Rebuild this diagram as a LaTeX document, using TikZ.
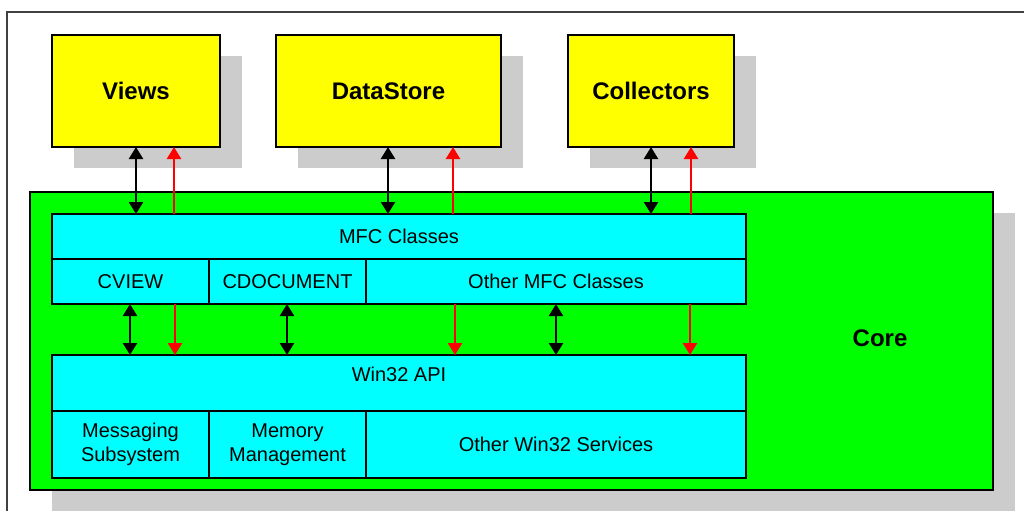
\documentclass[tikz,border=0pt]{standalone}
\usepackage{fontspec}
\setmainfont{Liberation Sans}
\usetikzlibrary{arrows.meta,shadows}
\definecolor{boxyellow}{HTML}{FFFF00}
\definecolor{coregreen}{HTML}{00FF00}
\definecolor{apicyan}{HTML}{00FFFF}
\definecolor{shadowgray}{HTML}{CCCCCC}
\definecolor{flowred}{HTML}{FF0000}
\begin{document}
\begin{tikzpicture}[x=1pt,y=-1pt,
		box/.style={draw=black,line width=1.2pt,inner sep=0pt,outer sep=0pt,align=center,font=\fontsize{20}{24}\selectfont},
		shade/.style={drop shadow={shadow xshift=22pt,shadow yshift=-21pt,fill=shadowgray,opacity=1}},
		module/.style={box,shade,fill=boxyellow,minimum height=112pt,font=\fontsize{24}{28}\selectfont\bfseries},
		cell/.style={box,fill=apicyan},
		both/.style={line width=2.4pt,{Triangle[width=14pt,length=12pt]}-{Triangle[width=14pt,length=12pt]}},
		redflow/.style={line width=2.4pt,flowred,-{Triangle[width=14pt,length=12pt]}}]
			\useasboundingbox (0,0) rectangle (1024,511);
			\draw [line width=1.5pt,black!75] (7,511) -- (7,12) -- (1024,12);
			\coordinate (a1) at (136,0);
			\coordinate (r1) at (174,0);
			\coordinate (a2) at (388,0);
			\coordinate (r2) at (453,0);
			\coordinate (a3) at (651,0);
			\coordinate (r3) at (691,0);
			\coordinate (b1) at (130,0);
			\coordinate (s1) at (175,0);
			\coordinate (b2) at (287,0);
			\coordinate (s2) at (455,0);
			\coordinate (b3) at (556,0);
			\coordinate (s3) at (690,0);
			\node [box,shade,fill=coregreen,minimum width=963pt,minimum height=298pt] (core) at (511.5,341) {};
			\node [font=\fontsize{24}{28}\selectfont\bfseries] (corelbl) at (880,338) {Core};
			\node [cell,minimum width=694pt,minimum height=45pt] (mfc) at (399,236.5) {MFC Classes};
			\node [cell,minimum width=157pt,minimum height=45pt] (cview) at (130.5,281.5) {CVIEW};
			\node [cell,minimum width=157pt,minimum height=45pt] (cdoc) at (287.5,281.5) {CDOCUMENT};
			\node [cell,minimum width=380pt,minimum height=45pt] (othermfc) at (556,281.5) {Other MFC Classes};
			\node [cell,minimum width=694pt,minimum height=56pt,text depth=18pt] (win) at (399,383) {Win32 API};
			\node [cell,minimum width=157pt,minimum height=67pt] (msg) at (130.5,444.5) {Messaging\\Subsystem};
			\node [cell,minimum width=157pt,minimum height=67pt] (mem) at (287.5,444.5) {Memory\\Management};
			\node [cell,minimum width=380pt,minimum height=67pt] (otherwin) at (556,444.5) {Other Win32 Services};
			\node [module,minimum width=168pt] (views) at (136,91) {Views};
			\node [module,minimum width=225pt] (store) at (388.5,91) {DataStore};
			\node [module,minimum width=166pt] (coll) at (651,91) {Collectors};
			\draw [both] (views.south -| a1) -- (mfc.north -| a1);
			\draw [both] (store.south -| a2) -- (mfc.north -| a2);
			\draw [both] (coll.south -| a3) -- (mfc.north -| a3);
			\draw [redflow] (mfc.north -| r1) -- (views.south -| r1);
			\draw [redflow] (mfc.north -| r2) -- (store.south -| r2);
			\draw [redflow] (mfc.north -| r3) -- (coll.south -| r3);
			\draw [both] (cview.south -| b1) -- (win.north -| b1);
			\draw [both] (cdoc.south -| b2) -- (win.north -| b2);
			\draw [both] (othermfc.south -| b3) -- (win.north -| b3);
			\draw [redflow] (cview.south -| s1) -- (win.north -| s1);
			\draw [redflow] (othermfc.south -| s2) -- (win.north -| s2);
			\draw [redflow] (othermfc.south -| s3) -- (win.north -| s3);
		\end{tikzpicture}
\end{document}
